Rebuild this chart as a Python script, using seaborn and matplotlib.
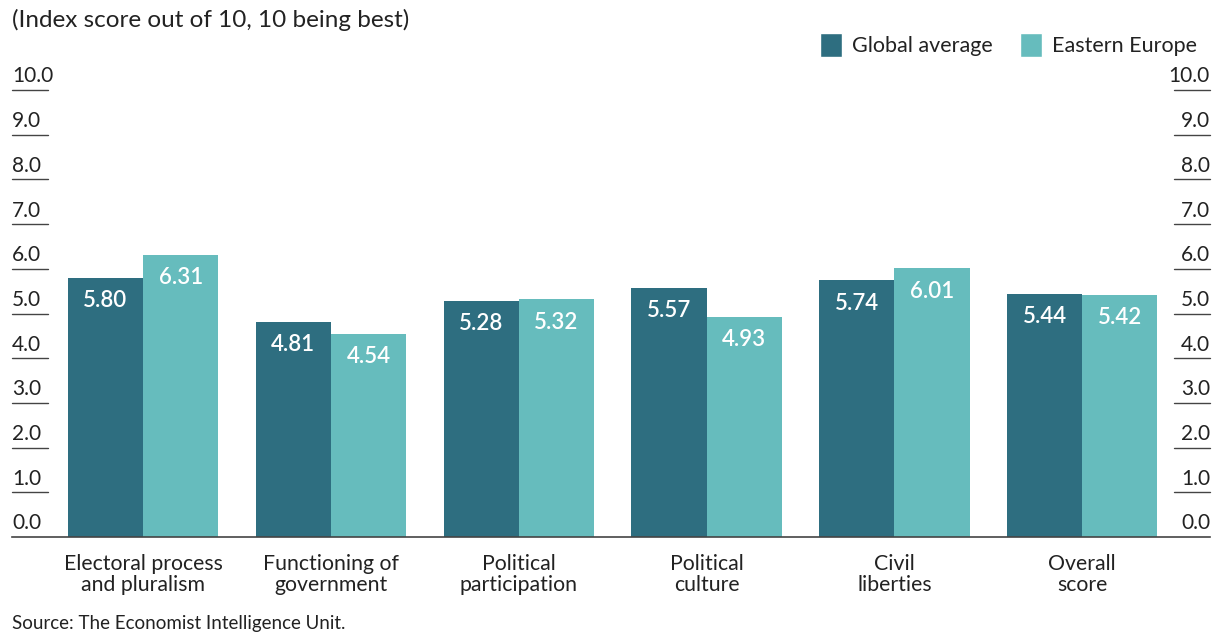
import pandas as pd
import matplotlib.pyplot as plt
import matplotlib.transforms as mtransforms
from matplotlib.patches import Patch
import seaborn as sns

sns.set_theme(style="white")
plt.rcParams['font.family'] = ['Lato', 'DejaVu Sans']

# Data
categories = ["Electoral process\nand pluralism", "Functioning of\ngovernment",
              "Political\nparticipation", "Political\nculture",
              "Civil\nliberties", "Overall\nscore"]
global_avg = [5.80, 4.81, 5.28, 5.57, 5.74, 5.44]
eastern_europe = [6.31, 4.54, 5.32, 4.93, 6.01, 5.42]
series_names = ["Global average", "Eastern Europe"]
y_ticks = [0, 1, 2, 3, 4, 5, 6, 7, 8, 9, 10]

colors = ["#2e6e80", "#66bcbd"]
text_col = "#222222"

df = pd.DataFrame({
    "Category": categories * 2,
    "Series": [series_names[0]] * len(categories) + [series_names[1]] * len(categories),
    "Score": global_avg + eastern_europe,
})

fig = plt.figure(figsize=(12.22, 6.36), dpi=100)
ax = fig.add_axes([12 / 1222, 1 - 537 / 636, (1210 - 12) / 1222, (537 - 90) / 636])

sns.barplot(data=df, x="Category", y="Score", hue="Series", palette=colors,
            width=0.8, saturation=1, linewidth=0, ax=ax, legend=False)

ax.set_xlim(-0.698, 5.68)
ax.set_ylim(0, 10)
ax.set_xlabel("")
ax.set_ylabel("")
ax.set_yticks([])
for s in ["top", "right", "left"]:
    ax.spines[s].set_visible(False)
ax.spines["bottom"].set_color("#444444")
ax.spines["bottom"].set_linewidth(1.2)
ax.tick_params(axis="x", length=0, pad=12, labelsize=15.3, labelcolor=text_col)
for t in ax.get_xticklabels():
    t.set_linespacing(1.1)
ax.set_facecolor("white")

# value labels inside bars
for container in ax.containers:
    ax.bar_label(container, fmt="%.2f", label_type="edge", padding=-24,
                 color="white", fontsize=16, fontweight="semibold")

# tick labels with short underlines on both sides
trans = mtransforms.blended_transform_factory(ax.transAxes, ax.transData)
lw_frac = 36 / 1198
for v in y_ticks:
    lab = f"{v:.1f}"
    ax.text(0, v + 0.08, lab, transform=trans, ha="left", va="bottom",
            fontsize=15, color=text_col)
    ax.text(1, v + 0.08, lab, transform=trans, ha="right", va="bottom",
            fontsize=15, color=text_col)
    if v > 0:
        ax.plot([0, lw_frac], [v, v], transform=trans, color="#444444", lw=1, clip_on=False)
        ax.plot([1 - lw_frac, 1], [v, v], transform=trans, color="#444444", lw=1, clip_on=False)

handles = [Patch(facecolor=c, label=n) for c, n in zip(colors, series_names)]
fig.legend(handles=handles, loc="upper right", bbox_to_anchor=(1216 / 1222, 1 - 14 / 636),
           ncol=2, frameon=False, fontsize=15.5, handlelength=1.0, handleheight=1.3,
           columnspacing=1.3, handletextpad=0.45, labelcolor=text_col)

fig.text(12 / 1222, 1 - 20 / 636, "(Index score out of 10, 10 being best)",
         ha="left", va="center", fontsize=17.5, color=text_col)
fig.text(12 / 1222, 1 - 624 / 636, "Source: The Economist Intelligence Unit.",
         ha="left", va="center", fontsize=13.5, color=text_col)

fig.savefig("out.png", dpi=100, facecolor="white")
